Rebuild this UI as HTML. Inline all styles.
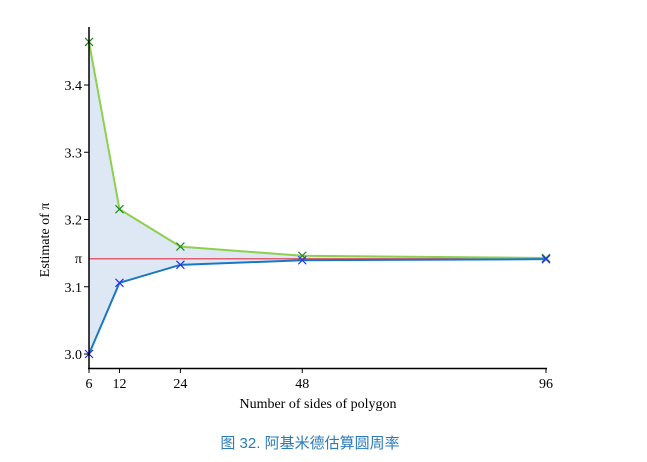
<!DOCTYPE html>
<html><head><meta charset="utf-8"><style>
body{margin:0;background:#fff;width:647px;height:462px;overflow:hidden}
svg text{font-family:"Liberation Serif",serif;font-size:14px;fill:#000}
.cap{position:absolute;left:0;top:432px;width:620px;text-align:center;font-family:"Liberation Sans","Noto Sans CJK SC",sans-serif;font-size:15px;color:#2b7bba}
</style></head><body>
<svg id="c" width="647" height="462" style="position:absolute;left:0;top:0"></svg>
<div class="cap">图 32. 阿基米德估算圆周率</div>
<script>
const sides=[6,12,24,48,96];
const upper=[3.4641,3.2154,3.1597,3.1461,3.1427];
const lower=[3.0,3.1058,3.1326,3.1394,3.1410];
const yTicks=[3.0,3.1,3.2,3.3,3.4];
const piVal=Math.PI;
const NS="http://www.w3.org/2000/svg";
const svg=document.getElementById('c');
const x=v=>89+(v-6)*(546-89)/90;
const y=v=>354-(v-3.0)*672.5;
function mk(t,a,p){const e=document.createElementNS(NS,t);for(const k in a)e.setAttribute(k,a[k]);(p||svg).appendChild(e);return e;}
let pts=sides.map((s,i)=>x(s)+','+y(upper[i])).concat(sides.slice().reverse().map((s,i)=>x(s)+','+y(lower[sides.length-1-i])));
let area=mk('polygon',{points:pts.join(' '),fill:'#dde8f4'});


let pl=mk('line',{x1:89,x2:546,y1:y(piVal),y2:y(piVal),stroke:'#e06070','stroke-width':1.5});


function series(vals,col,mcol,name){
 let l=mk('polyline',{points:sides.map((s,i)=>x(s)+','+y(vals[i])).join(' '),fill:'none',stroke:col,'stroke-width':2});
 
 
 sides.forEach((s,i)=>{const cx=x(s),cy=y(vals[i]);
  let m=mk('path',{d:`M${cx-4},${cy-4}L${cx+4},${cy+4}M${cx-4},${cy+4}L${cx+4},${cy-4}`,stroke:mcol,'stroke-width':1.2});
  
  });
}
series(upper,'#8ecf50','#1a8a1a','upper-bound');
series(lower,'#1a78c2','#2030ff','lower-bound');
let ya=mk('line',{x1:89,x2:89,y1:27,y2:369,stroke:'#000','stroke-width':1.5});


let xa=mk('line',{x1:88,x2:547,y1:368.5,y2:368.5,stroke:'#000','stroke-width':1.5});


yTicks.forEach(v=>{mk('line',{x1:84,x2:89,y1:y(v),y2:y(v),stroke:'#000'});
 let t=mk('text',{x:82,y:y(v)+5,'text-anchor':'end'});t.textContent=v.toFixed(1);
 
 });
let pt=mk('text',{x:82,y:y(piVal)+4,'text-anchor':'end'});pt.textContent='π';


sides.forEach(s=>{mk('line',{x1:x(s),x2:x(s),y1:368,y2:373,stroke:'#000'});
 let t=mk('text',{x:x(s),y:388,'text-anchor':'middle'});t.textContent=s;
 
 });
let xt=mk('text',{x:318,y:408,'text-anchor':'middle'});xt.textContent='Number of sides of polygon';


let yt=mk('text',{x:0,y:0,'text-anchor':'middle',transform:'translate(49,240) rotate(-90)'});yt.textContent='Estimate of π';


</script>
</body></html>
